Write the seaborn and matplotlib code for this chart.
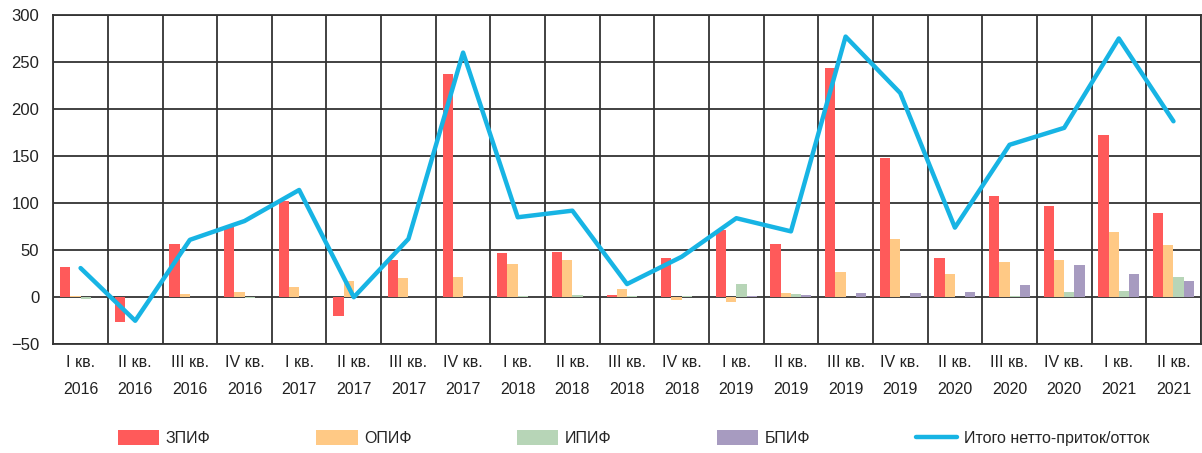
import numpy as np
import pandas as pd
import matplotlib
matplotlib.use("Agg")
import matplotlib.pyplot as plt
import seaborn as sns
from matplotlib.patches import Patch
from matplotlib.lines import Line2D

quarters = ["I кв.\n2016", "II кв.\n2016", "III кв.\n2016", "IV кв.\n2016",
            "I кв.\n2017", "II кв.\n2017", "III кв.\n2017", "IV кв.\n2017",
            "I кв.\n2018", "II кв.\n2018", "III кв.\n2018", "IV кв.\n2018",
            "I кв.\n2019", "II кв.\n2019", "III кв.\n2019", "IV кв.\n2019",
            "II кв.\n2020", "III кв.\n2020", "IV кв.\n2020", "I кв.\n2021", "II кв.\n2021"]
zpif = [32, -26, 57, 75, 102, -20, 40, 237, 47, 48, 2, 42, 71, 57, 244, 148, 42, 108, 97, 172, 90]
opif = [1, 0, 3, 6, 11, 17, 20, 22, 35, 40, 9, -3, -5, 5, 27, 62, 25, 37, 40, 69, 56]
ipif = [-2, 0, 0, -1, 0, 0, 0, 0, 1, 2, 1, 1.5, 14, 3, 0, 0, 0, 1.5, 6, 7, 22]
bpif = [0, 0, 0, 0, 0, 0, 0, 0, 0, 0, 0, 0, 1.5, 2, 4, 4, 6, 13, 34, 25, 17]
total = [31, -25, 61, 81, 114, 0, 62, 260, 85, 92, 14, 43, 84, 70, 277, 217, 74, 162, 180, 275, 187]

series_names = ["ЗПИФ", "ОПИФ", "ИПИФ", "БПИФ"]
line_name = "Итого нетто-приток/отток"
colors = ["#FF5A5A", "#FFC985", "#B7D5B7", "#A79BC0"]
line_color = "#17B4E4"
yticks = [-50, 0, 50, 100, 150, 200, 250, 300]

sns.set_theme(style="white")
plt.rcParams["font.family"] = ["Liberation Sans", "DejaVu Sans"]

df = pd.DataFrame({
    "quarter": quarters * 4,
    "value": zpif + opif + ipif + bpif,
    "fund": sum([[n] * len(quarters) for n in series_names], []),
})

fig = plt.figure(figsize=(12.02, 4.53), dpi=100)
ax = fig.add_axes([0.0443, 0.240, 0.9547, 0.727])

sns.barplot(data=df, x="quarter", y="value", hue="fund", order=quarters,
            hue_order=series_names, palette=colors, width=0.75, ax=ax,
            saturation=1, legend=False, errorbar=None, linewidth=0, gap=0)
sns.lineplot(x=np.arange(len(quarters)), y=total, color=line_color, lw=3.2,
             sort=False, ax=ax, zorder=5)

n = len(quarters)
ax.set_xlim(-0.5, n - 0.5)
ax.set_ylim(-50, 300)
ax.set_yticks(yticks)
ax.set_xticks(np.arange(n))
ax.set_xticklabels(quarters, fontsize=11.5, linespacing=2.0)
ax.set_xticks(np.arange(-0.5, n, 1.0), minor=True)
ax.grid(False)
ax.grid(axis="x", which="minor", color="#333333", lw=1.3)
ax.grid(axis="y", which="major", color="#333333", lw=1.3)
ax.set_axisbelow(True)
ax.tick_params(axis="both", which="both", length=0, colors="#222222")
ax.tick_params(axis="x", pad=8, labelsize=11.5)
ax.tick_params(axis="y", pad=10, labelsize=12)
for s in ax.spines.values():
    s.set_color("#333333")
    s.set_linewidth(1.3)
ax.set_xlabel("")
ax.set_ylabel("")

handles = [Patch(facecolor=c, edgecolor="none") for c in colors] + [Line2D([0], [0], color=line_color, lw=3.2)]
labels = series_names + [line_name]
fig.legend(handles, labels, loc="center", bbox_to_anchor=(0.527, 0.033), ncol=5,
           frameon=False, fontsize=11.5, handlelength=2.6, handleheight=1.0,
           columnspacing=6.6, handletextpad=0.4)

fig.savefig("out.png", dpi=100)
